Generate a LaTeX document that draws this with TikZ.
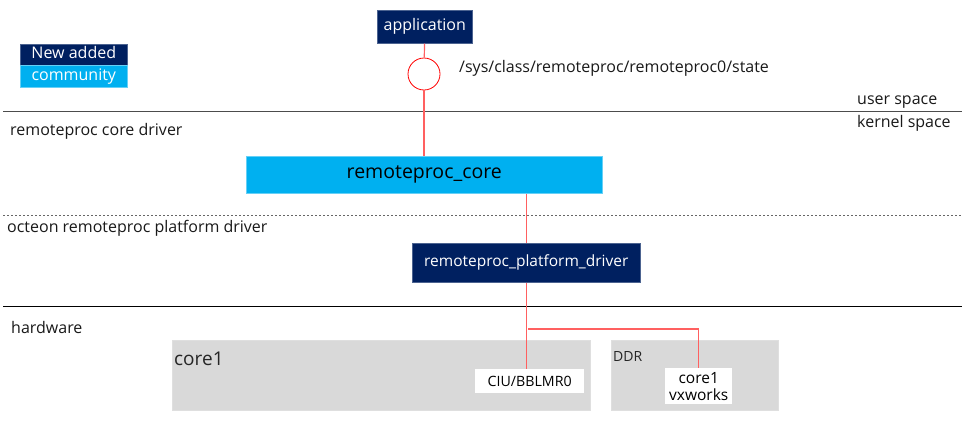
\documentclass[tikz,border=0pt]{standalone}
\usepackage{fontspec}
\setmainfont{Open Sans}
\definecolor{navy}{HTML}{002060}
\definecolor{cyanbox}{HTML}{00B0F0}
\definecolor{grayboxc}{HTML}{D9D9D9}
\definecolor{redline}{HTML}{FF6060}
\tikzset{
  navybox/.style={fill=navy,draw=navy!70!white,line width=0.6pt,text=white,inner sep=0pt,font=\fontsize{16}{18}\selectfont,text height=0.8em,text depth=0pt},
  cyanbx/.style={fill=cyanbox,draw=cyanbox!60!white,line width=0.6pt,text=black,inner sep=0pt,text height=0.8em,text depth=0pt},
  hwbox/.style={fill=grayboxc,draw=gray!25,line width=0.5pt,inner sep=0pt},
  whitebox/.style={fill=white,inner sep=0pt,font=\fontsize{14.2}{16}\selectfont,align=center},
  lbl/.style={anchor=west,inner sep=0pt,font=\fontsize{16}{18}\selectfont,text=black!90},
  conn/.style={draw=redline,line width=1.2pt},
  sep/.style={draw=black!70,line width=1pt},
}
\begin{document}
\begin{tikzpicture}[x=1pt,y=-1pt]
\useasboundingbox (0,0) rectangle (962,426);
% legend
\node[navybox,minimum width=107pt,minimum height=21pt,anchor=north west] (newadded) at (20,44) {New added};
\node[cyanbx,text=white,font=\fontsize{16}{18}\selectfont,minimum width=107pt,minimum height=22pt,anchor=north west] (community) at (20,65) {community};
% application
\node[navybox,minimum width=95pt,minimum height=33pt,anchor=north west] (app) at (377,10) {application};
\node[circle,draw=red,line width=0.8pt,minimum size=32pt,inner sep=0pt] (iface) at (424,74) {};
\node[lbl] (syspath) at (459,68) {/sys/class/remoteproc/remoteproc0/state};
% separators
\coordinate (s1l) at (3,111);
\coordinate (s1r) at (962,111);
\draw[sep] (s1l) -- (s1r);
\node[lbl] (user) at (857,102) {user space};
\node[lbl] (kernel) at (857,123) {kernel space};
\node[lbl] (coredrv) at (10,131) {remoteproc core driver};
% core
\node[cyanbx,minimum width=356pt,minimum height=37pt,anchor=north west,font=\fontsize{19.5}{22}\selectfont] (core) at (246,156) {remoteproc\_core};
\coordinate (s2l) at (3,215);
\coordinate (s2r) at (962,215);
\draw[draw=black!60,line width=1pt,dash pattern=on 2pt off 2pt] (s2l) -- (s2r);
\node[lbl] (platdrv) at (7,228) {octeon remoteproc platform driver};
% platform
\node[navybox,minimum width=228pt,minimum height=39pt,anchor=north west,font=\fontsize{15.5}{18}\selectfont] (plat) at (412,243) {remoteproc\_platform\_driver};
\coordinate (s3l) at (3,306);
\coordinate (s3r) at (962,306);
\draw[draw=black,line width=1pt] (s3l) -- (s3r);
\node[lbl] (hw) at (11,327) {hardware};
% hardware
\node[hwbox,minimum width=418pt,minimum height=70pt,anchor=north west] (core1) at (172,340) {};
\node[anchor=west,inner sep=0pt,font=\fontsize{19}{21}\selectfont,text=black!85] (core1lbl) at (174,359) {core1};
\node[hwbox,minimum width=167pt,minimum height=70pt,anchor=north west] (ddr) at (611,340) {};
\node[anchor=west,inner sep=0pt,font=\fontsize{14}{16}\selectfont,text=black!85] (ddrlbl) at (613,356) {DDR};
\node[whitebox,minimum width=109pt,minimum height=24pt,anchor=north west] (ciu) at (475,369) {CIU/BBLMR0};
\node[whitebox,minimum width=67pt,minimum height=36pt,anchor=north west,font=\fontsize{15.5}{17}\selectfont] (vx) at (665,368) {core1\\vxworks};
% connectors
\draw[conn] (app) -- (iface);
\draw[conn] (iface) -- (iface |- core.north);
\draw[conn] (core.south -| plat) -- (plat.north);
\draw[conn] (plat.south) -- (ciu.north -| plat);
\coordinate (branch) at (528,329);
\draw[conn] (branch) -| (vx.north);
\end{tikzpicture}
\end{document}
